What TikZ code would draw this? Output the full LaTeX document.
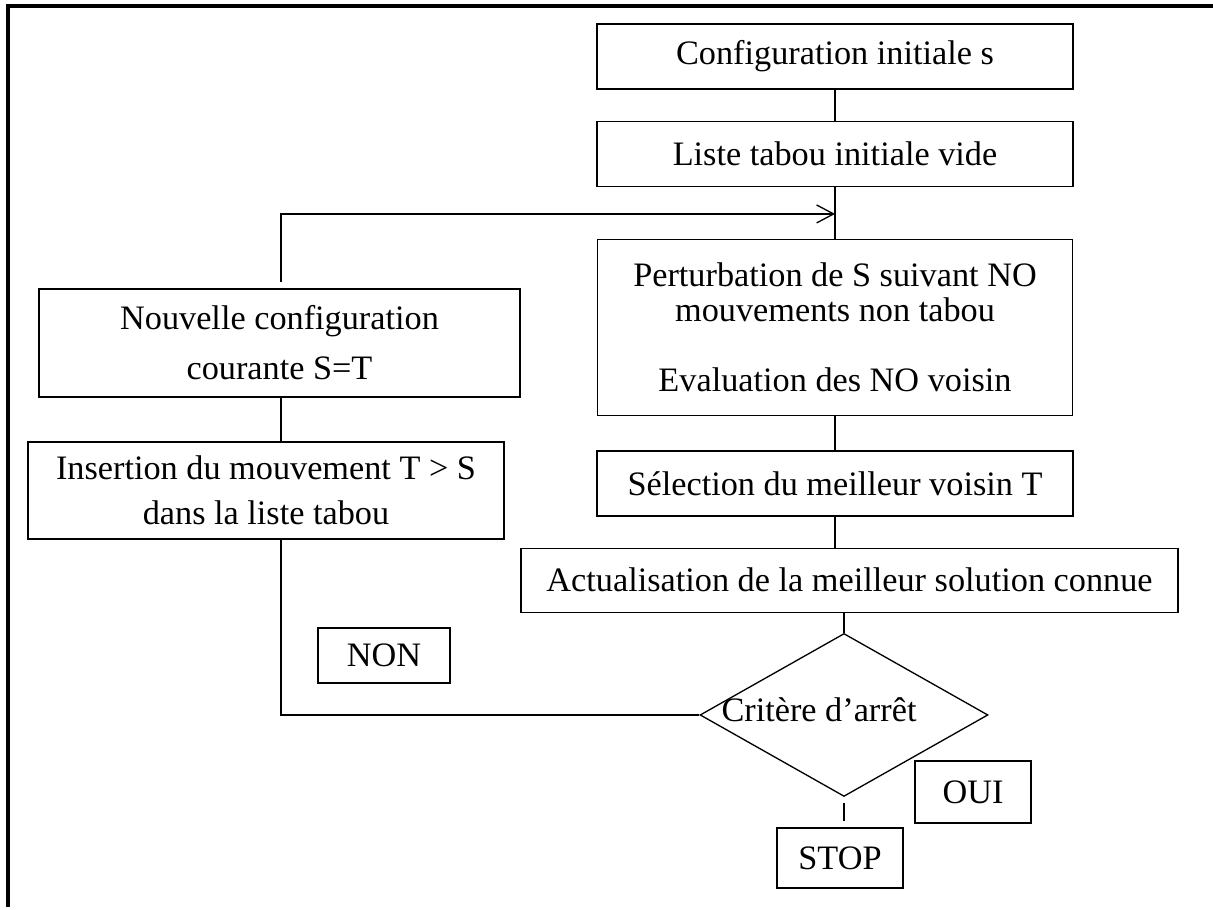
\documentclass[tikz,border=0pt]{standalone}
\usepackage{fontspec}
\setmainfont{Liberation Serif}
\usetikzlibrary{arrows.meta, positioning, shapes.geometric, calc}

\begin{document}
\begin{tikzpicture}[x=0.02cm, y=-0.02cm, line width=0.75pt,
    every node/.style={font=\fontsize{19.5}{20}\selectfont, inner sep=0pt},
    etape/.style={draw, align=center, minimum width=9.52cm, minimum height=1.3cm},
    reponse/.style={draw, minimum height=1.2cm}]
  \useasboundingbox (0,0) rectangle (1213,909);
  % cadre
  \draw[line width=2.2pt] (8,907) -- (8,6) -- (1213,6);

  % colonne de droite
  \node[etape] (init) at (835,56.5) {Configuration initiale s};
  \node[etape, below=0.62cm of init] (tabou) {Liste tabou initiale vide};
  \node[etape, below=1.04cm of tabou, minimum width=9.5cm, minimum height=3.52cm] (perturb)
    {Perturbation de S suivant NO\\mouvements non tabou\\[19.8pt]Evaluation des NO voisin};
  \node[etape, below=0.68cm of perturb] (select) {Sélection du meilleur voisin T};
  \node[etape, below=0.62cm of select, xshift=0.29cm, minimum width=13.14cm, minimum height=1.28cm] (actual)
    {Actualisation de la meilleur solution connue};
  \node[draw, diamond, below=0.4cm of actual, xshift=-0.11cm, minimum width=5.76cm, minimum height=3.26cm,
    label={[xshift=-0.5cm, yshift=0.1cm]center:Critère d’arrêt}] (crit) {};

  % colonne de gauche
  \node[etape, minimum width=9.62cm, minimum height=2.16cm] (nouv) at (279.5,343)
    {Nouvelle configuration\\[8.5pt]courante S=T};
  \node[etape, minimum height=1.94cm] (insert) at (266,490.5)
    {Insertion du mouvement T > S\\[5.6pt]dans la liste tabou};

  % reponses
  \node[reponse, minimum width=2.64cm, minimum height=1.1cm] (non) at (384,655.5) {NON};
  \node[reponse, minimum width=2.32cm, minimum height=1.24cm] (oui) at (973,792) {OUI};
  \node[reponse, minimum width=2.52cm] (stop) at (840,858) {STOP};

  \coordinate (col) at (281,0);
  \coordinate[above=0.5cm of perturb.north] (join);

  \draw (init) -- (tabou);
  \draw (tabou) -- (perturb);
  \draw (perturb) -- (select);
  \draw (select) -- (select |- actual.north);
  \draw (actual.south -| crit) -- (crit.north);
  \draw (crit.west) -| (col |- insert.south);
  \draw (col |- insert.north) -- (col |- nouv.south);
  \draw[-{Straight Barb[length=0.34cm, width=0.36cm]}] ($(col |- nouv.north)+(0,-6)$) |- (join);
  \draw[shorten <=0.12cm, shorten >=0.12cm] (crit.south) -- (crit.south |- stop.north);
\end{tikzpicture}
\end{document}
